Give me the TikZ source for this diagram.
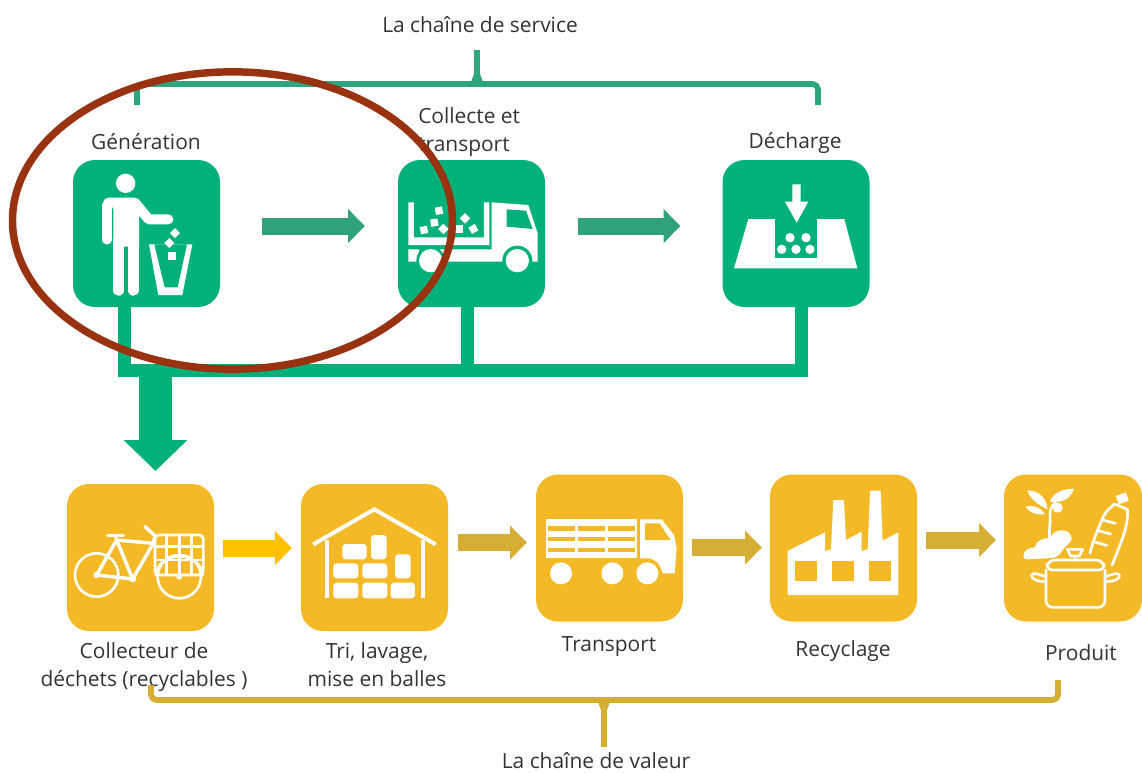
\documentclass[tikz,border=0pt]{standalone}
\usepackage{fontspec}
\setmainfont{Open Sans}
\usetikzlibrary{arrows.meta,calc,shapes.geometric}
\definecolor{boxgreen}{HTML}{02B17A}
\definecolor{boxgold}{HTML}{F4B927}
\definecolor{arrgreen}{HTML}{2FA27A}
\definecolor{brk}{HTML}{2DA57D}
\definecolor{arrgold}{HTML}{D6AE33}
\definecolor{arrbright}{HTML}{FFC000}
\definecolor{ringc}{HTML}{983210}
\definecolor{txt}{HTML}{333333}
\tikzset{
  x=0.75pt,y=-0.75pt,
  iconbox/.style={rounded corners=16.5pt,minimum width=110.25pt,minimum height=110.25pt,inner sep=0pt,outer sep=0pt},
  gbox/.style={iconbox,fill=boxgreen},
  ybox/.style={iconbox,fill=boxgold},
  lbl/.style={text=txt,font=\fontsize{15.7}{21}\selectfont,inner sep=0pt,align=center},
  blockarrow/.style={line width=12.75pt,-{Triangle[length=12.75pt,width=24.75pt]}},
  icon/.style={shift={(#1)},scale=0.33333},
  wl/.style={white,line width=2pt,line cap=round,line join=round},
  bracketline/.style={line width=4.3pt,line join=round,line cap=butt,rounded corners=4pt}
}
\begin{document}
\begin{tikzpicture}
\useasboundingbox (0,0) rectangle (1142,772);
% boxes
\node[gbox] (gen) at (146.5,233.5) {};
\node[gbox] (col) at (471.5,233.5) {};
\node[gbox] (dec) at (796,233.5) {};
\node[ybox] (cd) at (140.5,557.5) {};
\node[ybox] (tri) at (374.5,557.5) {};
\node[ybox] (tra) at (609.5,548) {};
\node[ybox] (rec) at (843.5,548) {};
\node[ybox,minimum width=103.5pt,anchor=west] (pro) at (1004,548) {};
% labels
\node[lbl] (t1) at (480,25) {La chaîne de service};
\node[lbl] (t2) at (146,142) {Génération};
\node[lbl,align=left,anchor=west] (t3) at (418,132) {Collecte et\\transport};
\node[lbl] (t4) at (795,143) {Décharge};
\node[lbl] (t5) at (144,667) {Collecteur de\\déchets (recyclables )};
\node[lbl] (t6) at (377,665) {Tri, lavage,\\mise en balles};
\node[lbl] (t7) at (609,647) {Transport};
\node[lbl] (t8) at (843,651) {Recyclage};
\node[lbl] (t9) at (1081,653) {Produit};
\node[lbl] (t10) at (596,761) {La chaîne de valeur};
% block arrows
\draw[blockarrow,arrgreen] ($(gen.east)+(42,-7.5)$) -- ($(col.west)+(-33,-7.5)$);
\draw[blockarrow,arrgreen] ($(col.east)+(33,-7.5)$) -- ($(dec.west)+(-42,-7.5)$);
\draw[blockarrow,arrbright] ($(cd.east)+(9,-9.5)$) -- ($(tri.west)+(-9,-9.5)$);
\draw[blockarrow,arrgold] ($(tri.east)+(10,-15)$) -- ($(tra.west)+(-9,-5.5)$);
\draw[blockarrow,arrgold] ($(tra.east)+(9,-0.5)$) -- ($(rec.west)+(-8,-0.5)$);
\draw[blockarrow,arrgold] ($(rec.east)+(9,-8)$) -- ($(pro.west)+(-8,-8)$);
% green tree
\coordinate (busL) at (118,370.5);
\coordinate (busR) at (808,370.5);
\coordinate (bigS) at (155.5,377);
\coordinate (bigE) at (155.5,471);
\draw[boxgreen,line width=9.75pt] (busL) -- (busR);
\draw[boxgreen,line width=9.75pt] ($(gen.south)+(-22,0)$) -- ($(gen.south)+(-22,66)$);
\draw[boxgreen,line width=9.75pt] ($(col.south)+(-4,0)$) -- ($(col.south)+(-4,66)$);
\draw[boxgreen,line width=9.75pt] ($(dec.south)+(5.5,0)$) -- ($(dec.south)+(5.5,66)$);
\draw[boxgreen,line width=24.75pt,-{Triangle[length=23.25pt,width=46.5pt]}] (bigS) -- (bigE);
% brackets
\coordinate (tl) at (137,105);\coordinate (tr) at (818,105);\coordinate (tm) at (477,50);
\draw[brk,bracketline] (tl) -- (137,84) -- (818,84) -- (tr);
\draw[brk,line width=4.3pt] (tm) -- (477,84);
\fill[brk] (474,74) -- (480,74) -- (483,82) -- (471,82) -- cycle;
\coordinate (bl) at (151,685);\coordinate (br) at (1058,680);\coordinate (bm) at (604,747);
\draw[arrgold,bracketline] (bl) -- (151,700) -- (1058,700) -- (br);
\draw[arrgold,line width=4.3pt] (bm) -- (604,700);
\fill[arrgold] (601,710) -- (607,710) -- (610,702) -- (598,702) -- cycle;
% --- person + bin
\begin{scope}[icon={60,150}]
\fill[white] (197,100) circle (29);
\draw[wl,line width=6.8pt] (141,165) -- (141,270);
\draw[wl,line width=7.5pt] (145,158) -- (225,158) -- (266,208) -- (325,208);
\fill[white] (155,150) -- (232,150) -- (237,190) -- (237,290) -- (160,290) -- (160,180) -- cycle;
\draw[wl,line width=8.6pt] (176,270) -- (176,420);
\draw[wl,line width=8.6pt] (220,270) -- (220,420);
\fill[white] (267,283) -- (397,283) -- (367,435) -- (295,435) -- cycle;
\fill[boxgreen] (283,283) -- (381,283) -- (353,412) -- (314,412) -- cycle;
\fill[white] (345,234) -- (360,249) -- (345,264) -- (330,249) -- cycle;
\fill[white] (328,264) -- (343,279) -- (328,294) -- (313,279) -- cycle;
\fill[white] (323,305) rectangle (348,329);
\end{scope}
% --- green truck
\begin{scope}[icon={60,150}]
\fill[white] (1045,157) -- (1062,157) -- (1062,262) -- (1272,262) -- (1272,157) -- (1288,157) -- (1288,285) -- (1045,285) -- cycle;
\fill[white] (1295,157) -- (1405,165) -- (1433,250) -- (1433,335) -- (1140,335) -- (1140,298) -- (1295,298) -- cycle;
\fill[white] (1045,298) -- (1078,298) -- (1070,335) -- (1045,335) -- cycle;
\fill[boxgreen] (1340,178) -- (1398,182) -- (1418,237) -- (1340,230) -- cycle;
\fill[boxgreen] (1112,332) circle (43);
\fill[boxgreen] (1372,332) circle (45);
\fill[white] (1112,332) circle (35);
\fill[white] (1372,332) circle (35);
\foreach \dx/\dy/\da in {1092/240/10,1137/182/10,1123/218/10,1150/237/45,1197/237/0,1215/205/45,1240/237/30}{
  \fill[white,rotate around={\da:(\dx,\dy)}] ($(\dx,\dy)+(-11,-11)$) rectangle ($(\dx,\dy)+(11,11)$);
}
\end{scope}
% --- landfill
\begin{scope}[icon={710,150}]
\fill[white] (115,207) -- (403,207) -- (442,355) -- (72,355) -- cycle;
\fill[boxgreen] (195,207) rectangle (322,325);
\fill[white] (247,103) -- (272,103) -- (272,155) -- (295,155) -- (260,218) -- (225,155) -- (247,155) -- cycle;
\foreach \cx/\cy in {240/263,288/263,215/298,258/298,300/298}{\fill[white] (\cx,\cy) circle (14);}
\end{scope}
% --- bicycle
\begin{scope}[icon={60,475}]
\draw[wl] (110,300) circle (65);
\draw[wl] (358,305) circle (65);
\draw[wl,line width=2.6pt] (110,300) -- (170,195) -- (280,205) -- (218,312) -- cycle;
\draw[wl,line width=2.6pt] (170,195) -- (218,312);
\draw[wl,line width=2.6pt] (143,182) -- (190,182);
\draw[wl] (165,182) -- (170,195);
\draw[wl,line width=2.6pt] (255,155) -- (285,182) -- (280,205);
\draw[wl,rounded corners=3pt] (285,180) rectangle (430,300);
\foreach \gx in {320,358,395}{\draw[wl,line width=2.2pt] (\gx,180) -- (\gx,300);}
\foreach \gy in {215,255}{\draw[wl,line width=2.2pt] (285,\gy) -- (430,\gy);}
\draw[wl] (288,300) .. controls (295,225) and (421,225) .. (428,300);
\fill[white] (110,300) circle (10);\fill[white] (218,312) circle (10);\fill[white] (358,305) circle (9);
\end{scope}
% --- warehouse
\begin{scope}[icon={60,475}]
\draw[white,line width=3pt] (760,208) -- (943,103) -- (1127,208);
\draw[white,line width=3pt] (800,195) -- (800,370);
\draw[white,line width=3pt] (1088,195) -- (1088,370);
\foreach \ax/\ay/\bx/\by in {847/207/920/253,933/180/980/253,1005/238/1052/310,820/265/895/310,907/265/982/310,820/323/895/370,907/323/982/370,992/323/1065/370}{
  \fill[white,rounded corners=2.5pt] (\ax,\ay) rectangle (\bx,\by);}
\end{scope}
% --- big truck
\begin{scope}[icon={530,470}]
\fill[white] (47,148) rectangle (322,265);
\foreach \ry in {168,200,233}{\foreach \rx in {53,144,233}{
  \fill[boxgold] (\rx,\ry) rectangle ($(\rx,\ry)+(82,14)$);}}
\fill[white] (330,148) -- (395,148) -- (432,195) -- (440,235) -- (434,310) -- (398,310) .. controls (390,280) and (375,265) .. (350,265) -- (330,265) -- cycle;
\fill[boxgold] (345,160) -- (388,160) -- (422,210) -- (345,210) -- cycle;
\fill[white] (93,310) circle (33);\fill[white] (247,310) circle (33);\fill[white] (352,310) circle (33);
\end{scope}
% --- factory
\begin{scope}[icon={530,470}]
\fill[white] (773,243) -- (885,187) -- (885,243) -- (903,238) -- (910,90) -- (942,90) -- (948,210) -- (995,185) -- (995,243) -- (1013,238) -- (1020,62) -- (1052,62) -- (1058,212) -- (1105,187) -- (1105,375) -- (773,375) -- cycle;
\foreach \wx in {795,907,1018}{\fill[boxgold] (\wx,272) rectangle ($(\wx,272)+(65,61)$);}
\end{scope}
% --- products
\begin{scope}[icon={990,470}]
\fill[white] (175,205) .. controls (172,180) and (178,160) .. (176,135) .. controls (175,110) and (190,95) .. (205,88) -- (207,92) .. controls (192,100) and (183,115) .. (184,135) .. controls (186,160) and (180,180) .. (184,205) -- cycle;
\fill[white] (112,62) .. controls (135,60) and (170,75) .. (172,118) .. controls (150,105) and (125,95) .. (112,62) -- cycle;
\fill[white] (107,110) .. controls (130,105) and (150,110) .. (165,133) .. controls (140,135) and (120,130) .. (107,110) -- cycle;
\fill[white] (252,57) .. controls (225,55) and (190,65) .. (180,95) .. controls (210,100) and (240,90) .. (252,57) -- cycle;
\fill[white] (203,113) circle (15);
\fill[white] (100,258) .. controls (100,240) and (120,232) .. (135,232) .. controls (140,205) and (165,205) .. (180,205) .. controls (190,175) and (240,170) .. (245,205) .. controls (245,220) and (225,225) .. (215,245) .. controls (205,262) and (190,265) .. (170,265) -- (115,268) .. controls (105,268) and (100,265) .. (100,258) -- cycle;
\draw[wl,rounded corners=5pt] (168,300) -- (168,412) -- (345,412) -- (345,300);
\draw[wl,rounded corners=5pt] (168,300) -- (175,270) -- (338,270) -- (345,300) -- cycle;
\draw[wl] (168,335) .. controls (140,335) and (122,325) .. (125,315) .. controls (128,305) and (150,315) .. (168,320);
\draw[wl] (345,335) .. controls (375,335) and (392,325) .. (388,315) .. controls (384,305) and (362,315) .. (345,320);
\draw[wl] (232,238) -- (278,238) -- (268,258) -- (242,258) -- cycle;
\draw[wl] (255,258) -- (255,270);
\draw[wl] (300,250) .. controls (310,205) and (330,165) .. (340,140) .. controls (348,122) and (362,112) .. (374,102);
\draw[wl] (412,118) .. controls (416,150) and (405,185) .. (392,220) .. controls (382,245) and (375,265) .. (366,285);
\draw[wl] (374,102) -- (412,118);
\draw[wl] (338,150) -- (376,160);\draw[wl] (325,182) -- (362,192);\draw[wl] (314,216) -- (350,226);
\fill[white,rotate around={20:(397,85)}] (381,72) rectangle (413,98);
\end{scope}
% ring
\node[draw=ringc,line width=5.6pt,ellipse,minimum width=330pt,minimum height=223pt,inner sep=0pt,fill=none] (ringn) at (232.5,220.5) {};
\end{tikzpicture}
\end{document}
